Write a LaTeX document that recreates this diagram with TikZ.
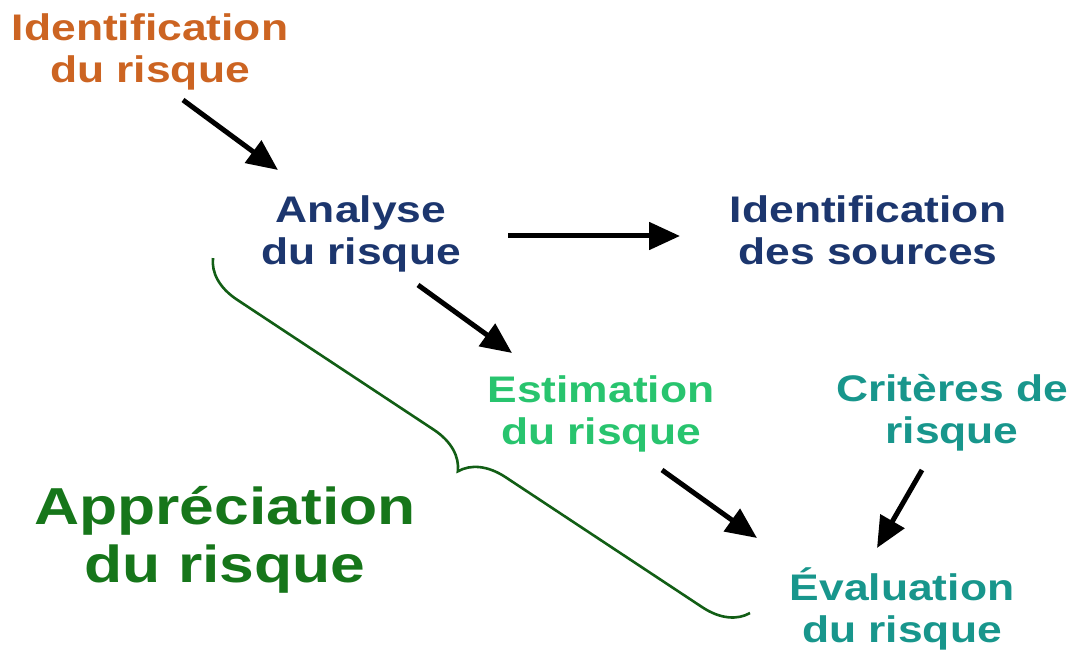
\documentclass[tikz,border=0pt]{standalone}
\usepackage{fontspec}
\setmainfont{Liberation Sans}[FakeStretch=1.2]
\usepackage{xcolor}
\usepackage{tikz}
\usetikzlibrary{positioning,arrows.meta,decorations.pathreplacing}

\definecolor{rust}{RGB}{204,100,34}
\definecolor{navy}{RGB}{28,54,110}
\definecolor{spring}{RGB}{40,196,110}
\definecolor{teal}{RGB}{24,150,140}
\definecolor{forest}{RGB}{22,118,26}

\begin{document}
\begin{tikzpicture}[x=1pt,y=-1pt,
		lbl/.style={align=center,inner sep=0pt,font=\fontsize{37}{42}\selectfont\bfseries},
		arr/.style={line width=5pt,-{Triangle[length=31pt,width=27pt]}}]
			\useasboundingbox (0,0) rectangle (1075,652);
			
			\node[lbl,text=rust] (idrisque) at (150,52) {Identification\\du risque};
			\node[lbl,text=navy] (analyse) at (361,234) {Analyse\\du risque};
			\node[lbl,text=navy] (sources) at (868,230) {Identification\\des sources};
			\node[lbl,text=spring] (estimation) at (601,414) {Estimation\\du risque};
			\node[lbl,text=teal] (criteres) at (952,413) {Critères de\\risque};
			\node[lbl,text=teal] (evaluation) at (902,609) {Évaluation\\du risque};
			\node[lbl,text=forest,font=\fontsize{52}{58}\selectfont\bfseries] (appreciation) at (225,540) {Appréciation\\du risque};
			
			\draw[arr] ([shift={(33,48)}]idrisque.center) -- ([shift={(-83,-64)}]analyse.center);
			\draw[arr] ([shift={(147,2)}]analyse.center) -- ([shift={(-188,6)}]sources.center);
			\draw[arr] ([shift={(57,51)}]analyse.center) -- ([shift={(-89,-61)}]estimation.center);
			\draw[arr] ([shift={(61,56)}]estimation.center) -- ([shift={(-145,-71)}]evaluation.center);
			\draw[arr] ([shift={(-30,57)}]criteres.center) -- ([shift={(-25,-61)}]evaluation.center);
			
			\draw[forest!80!black,line width=2.6pt,decorate,decoration={brace,amplitude=43pt}] (750,613) -- (213,258);
		\end{tikzpicture}
\end{document}
